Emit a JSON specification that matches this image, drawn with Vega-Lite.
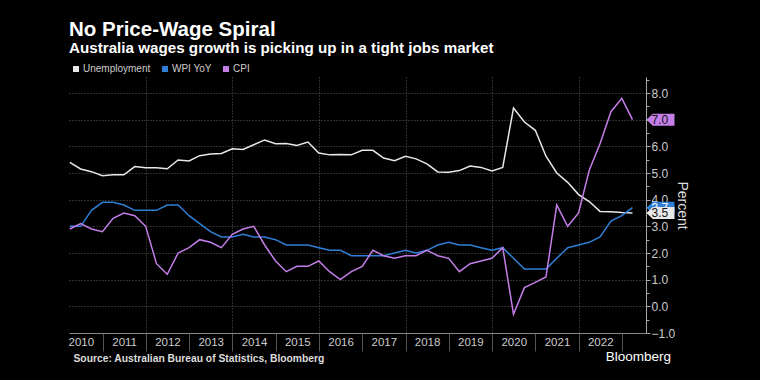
{
  "$schema": "https://vega.github.io/schema/vega-lite/v6.json",
  "width": 577,
  "height": 256,
  "autosize": {"type": "none"},
  "padding": {"left": 69, "top": 77, "right": 114, "bottom": 47},
  "background": "#000000",
  "title": {
    "text": "No Price-Wage Spiral",
    "subtitle": "Australia wages growth is picking up in a tight jobs market",
    "anchor": "start",
    "frame": "group",
    "offset": 8,
    "font": "Liberation Sans",
    "fontSize": 20.5,
    "fontWeight": "bold",
    "color": "#ffffff",
    "subtitleFont": "Liberation Sans",
    "subtitleFontSize": 15.2,
    "subtitleFontWeight": "bold",
    "subtitleColor": "#ffffff",
    "subtitlePadding": 0
  },
  "datasets": {
    "main": [
      {"date": "2010-03-31", "Unemployment": 5.4, "WPI YoY": 3.0, "CPI": 2.9},
      {"date": "2010-06-30", "Unemployment": 5.15, "WPI YoY": 3.0, "CPI": 3.1},
      {"date": "2010-09-30", "Unemployment": 5.05, "WPI YoY": 3.6, "CPI": 2.9},
      {"date": "2010-12-31", "Unemployment": 4.9, "WPI YoY": 3.9, "CPI": 2.8},
      {"date": "2011-03-31", "Unemployment": 4.93, "WPI YoY": 3.9, "CPI": 3.3},
      {"date": "2011-06-30", "Unemployment": 4.93, "WPI YoY": 3.8, "CPI": 3.5},
      {"date": "2011-09-30", "Unemployment": 5.24, "WPI YoY": 3.6, "CPI": 3.4},
      {"date": "2011-12-31", "Unemployment": 5.2, "WPI YoY": 3.6, "CPI": 3.0},
      {"date": "2012-03-31", "Unemployment": 5.2, "WPI YoY": 3.6, "CPI": 1.6},
      {"date": "2012-06-30", "Unemployment": 5.16, "WPI YoY": 3.8, "CPI": 1.2},
      {"date": "2012-09-30", "Unemployment": 5.49, "WPI YoY": 3.8, "CPI": 2.0},
      {"date": "2012-12-31", "Unemployment": 5.45, "WPI YoY": 3.4, "CPI": 2.2},
      {"date": "2013-03-31", "Unemployment": 5.65, "WPI YoY": 3.1, "CPI": 2.5},
      {"date": "2013-06-30", "Unemployment": 5.71, "WPI YoY": 2.8, "CPI": 2.4},
      {"date": "2013-09-30", "Unemployment": 5.73, "WPI YoY": 2.6, "CPI": 2.2},
      {"date": "2013-12-31", "Unemployment": 5.91, "WPI YoY": 2.6, "CPI": 2.7},
      {"date": "2014-03-31", "Unemployment": 5.88, "WPI YoY": 2.7, "CPI": 2.9},
      {"date": "2014-06-30", "Unemployment": 6.06, "WPI YoY": 2.6, "CPI": 3.0},
      {"date": "2014-09-30", "Unemployment": 6.24, "WPI YoY": 2.6, "CPI": 2.3},
      {"date": "2014-12-31", "Unemployment": 6.1, "WPI YoY": 2.5, "CPI": 1.7},
      {"date": "2015-03-31", "Unemployment": 6.11, "WPI YoY": 2.3, "CPI": 1.3},
      {"date": "2015-06-30", "Unemployment": 6.03, "WPI YoY": 2.3, "CPI": 1.5},
      {"date": "2015-09-30", "Unemployment": 6.16, "WPI YoY": 2.3, "CPI": 1.5},
      {"date": "2015-12-31", "Unemployment": 5.75, "WPI YoY": 2.2, "CPI": 1.7},
      {"date": "2016-03-31", "Unemployment": 5.68, "WPI YoY": 2.1, "CPI": 1.3},
      {"date": "2016-06-30", "Unemployment": 5.69, "WPI YoY": 2.1, "CPI": 1.0},
      {"date": "2016-09-30", "Unemployment": 5.68, "WPI YoY": 1.9, "CPI": 1.3},
      {"date": "2016-12-31", "Unemployment": 5.85, "WPI YoY": 1.9, "CPI": 1.5},
      {"date": "2017-03-31", "Unemployment": 5.85, "WPI YoY": 1.9, "CPI": 2.1},
      {"date": "2017-06-30", "Unemployment": 5.56, "WPI YoY": 1.9, "CPI": 1.9},
      {"date": "2017-09-30", "Unemployment": 5.46, "WPI YoY": 2.0, "CPI": 1.8},
      {"date": "2017-12-31", "Unemployment": 5.63, "WPI YoY": 2.1, "CPI": 1.9},
      {"date": "2018-03-31", "Unemployment": 5.53, "WPI YoY": 2.0, "CPI": 1.9},
      {"date": "2018-06-30", "Unemployment": 5.34, "WPI YoY": 2.1, "CPI": 2.1},
      {"date": "2018-09-30", "Unemployment": 5.04, "WPI YoY": 2.3, "CPI": 1.9},
      {"date": "2018-12-31", "Unemployment": 5.03, "WPI YoY": 2.4, "CPI": 1.8},
      {"date": "2019-03-31", "Unemployment": 5.09, "WPI YoY": 2.3, "CPI": 1.3},
      {"date": "2019-06-30", "Unemployment": 5.26, "WPI YoY": 2.3, "CPI": 1.6},
      {"date": "2019-09-30", "Unemployment": 5.21, "WPI YoY": 2.2, "CPI": 1.7},
      {"date": "2019-12-31", "Unemployment": 5.08, "WPI YoY": 2.1, "CPI": 1.8},
      {"date": "2020-03-31", "Unemployment": 5.21, "WPI YoY": 2.2, "CPI": 2.2},
      {"date": "2020-06-30", "Unemployment": 7.44, "WPI YoY": 1.8, "CPI": -0.3},
      {"date": "2020-09-30", "Unemployment": 6.91, "WPI YoY": 1.4, "CPI": 0.7},
      {"date": "2020-12-31", "Unemployment": 6.6, "WPI YoY": 1.4, "CPI": 0.9},
      {"date": "2021-03-31", "Unemployment": 5.63, "WPI YoY": 1.4, "CPI": 1.1},
      {"date": "2021-06-30", "Unemployment": 5.0, "WPI YoY": 1.8, "CPI": 3.8},
      {"date": "2021-09-30", "Unemployment": 4.65, "WPI YoY": 2.2, "CPI": 3.0},
      {"date": "2021-12-31", "Unemployment": 4.19, "WPI YoY": 2.3, "CPI": 3.5},
      {"date": "2022-03-31", "Unemployment": 3.93, "WPI YoY": 2.4, "CPI": 5.1},
      {"date": "2022-06-30", "Unemployment": 3.56, "WPI YoY": 2.6, "CPI": 6.1},
      {"date": "2022-09-30", "Unemployment": 3.55, "WPI YoY": 3.2, "CPI": 7.3},
      {"date": "2022-12-31", "Unemployment": 3.52, "WPI YoY": 3.4, "CPI": 7.8},
      {"date": "2023-03-31", "Unemployment": 3.5, "WPI YoY": 3.7, "CPI": 7.0}
    ]
  },
  "encoding": {
    "x": {
      "field": "date",
      "type": "temporal",
      "scale": {"domain": [{"year": 2010, "month": 3, "date": 24}, {"year": 2023, "month": 7, "date": 23}]},
      "axis": {
        "values": [
          {"year": 2010, "month": 7, "date": 2}, {"year": 2011, "month": 7, "date": 2},
          {"year": 2012, "month": 7, "date": 2}, {"year": 2013, "month": 7, "date": 2},
          {"year": 2014, "month": 7, "date": 2}, {"year": 2015, "month": 7, "date": 2},
          {"year": 2016, "month": 7, "date": 2}, {"year": 2017, "month": 7, "date": 2},
          {"year": 2018, "month": 7, "date": 2}, {"year": 2019, "month": 7, "date": 2},
          {"year": 2020, "month": 7, "date": 2}, {"year": 2021, "month": 7, "date": 2},
          {"year": 2022, "month": 7, "date": 2}, {"year": 2023, "month": 7, "date": 2}
        ],
        "format": "%Y",
        "labelExpr": "year(datum.value) >= 2023 ? '' : datum.label",
        "tickOffset": -21.6,
        "labelOffset": 21.6,
        "tickSize": 18,
        "tickColor": {"condition": {"test": "year(datum.value) == 2010", "value": "transparent"}, "value": "#555555"},
        "grid": true,
        "gridColor": "#5a5a5a",
        "gridDash": [1, 2],
        "gridOpacity": {"condition": {"test": "year(datum.value) % 2 == 0 && year(datum.value) > 2010", "value": 1}, "value": 0},
        "domainColor": "#888888",
        "labelColor": "#cccccc",
        "labelFont": "Liberation Sans",
        "labelFontSize": 11.5,
        "labelPadding": -15,
        "labelBaseline": "top",
        "labelFlush": false,
        "labelOverlap": false,
        "title": "Source: Australian Bureau of Statistics, Bloomberg",
        "titleAnchor": "start",
        "titleAlign": "left",
        "titleX": 4,
        "titleY": 28,
        "titleBaseline": "alphabetic",
        "titleFont": "Liberation Sans",
        "titleFontSize": 10.3,
        "titleFontWeight": "bold",
        "titleColor": "#dddddd"
      }
    },
    "y": {
      "field": "value",
      "type": "quantitative",
      "scale": {"domain": [-1, 8.6], "nice": false, "zero": false},
      "axis": {
        "orient": "right",
        "values": [-1, -0.5, 0, 0.5, 1, 1.5, 2, 2.5, 3, 3.5, 4, 4.5, 5, 5.5, 6, 6.5, 7, 7.5, 8, 8.5],
        "labelExpr": "datum.value % 1 == 0 ? format(datum.value, '.1f') : ''",
        "tickSize": {"condition": {"test": "datum.value % 1 == 0", "value": 4}, "value": 3},
        "tickColor": "#aaaaaa",
        "grid": true,
        "gridColor": "#5a5a5a",
        "gridDash": [1, 2],
        "gridOpacity": {"condition": {"test": "datum.value % 1 == 0 && datum.value > -1", "value": 1}, "value": 0},
        "domainColor": "#aaaaaa",
        "labelColor": "#cccccc",
        "labelFont": "Liberation Sans",
        "labelFontSize": 12,
        "labelPadding": 1,
        "labelFlush": false,
        "labelOverlap": false,
        "title": "Percent",
        "titleColor": "#dddddd",
        "titleFont": "Liberation Sans",
        "titleFontSize": 14,
        "titleFontWeight": "normal",
        "titlePadding": 0
      }
    }
  },
  "layer": [
    {
      "data": {"name": "main"},
      "transform": [
        {"fold": ["Unemployment", "WPI YoY", "CPI"], "as": ["series", "value"]},
        {"filter": "year(datum.date) == 2023 && datum.series == 'WPI YoY' || year(datum.date) == 2023 && datum.series == 'CPI'"}
      ],
      "mark": {"type": "point", "shape": "M -1 0 L -0.55 -0.43 L 1 -0.43 L 1 0.43 L -0.55 0.43 Z", "filled": true, "opacity": 1, "size": 784, "xOffset": 28},
      "encoding": {
        "color": {
          "field": "series",
          "type": "nominal",
          "scale": {"domain": ["Unemployment", "WPI YoY", "CPI"], "range": ["#e8e8e8", "#2f7fd6", "#c47ee8"]},
          "legend": {
            "orient": "none",
            "legendX": 2,
            "legendY": -13,
            "direction": "horizontal",
            "title": null,
            "symbolType": "square",
            "symbolSize": 36,
            "symbolStrokeWidth": 0,
            "labelFont": "Liberation Sans",
            "labelFontSize": 10,
            "labelColor": "#cccccc",
            "columnPadding": 9,
            "labelOffset": 2
          }
        }
      }
    },
    {
      "data": {"name": "main"},
      "transform": [
        {"fold": ["Unemployment", "WPI YoY", "CPI"], "as": ["series", "value"]},
        {"filter": "year(datum.date) == 2023 && datum.series == 'WPI YoY' || year(datum.date) == 2023 && datum.series == 'CPI'"}
      ],
      "mark": {"type": "text", "align": "left", "baseline": "middle", "xOffset": 19, "font": "Liberation Sans", "fontSize": 12},
      "encoding": {
        "text": {"field": "value", "type": "quantitative", "format": ".1f"},
        "color": {"condition": {"test": "datum.series == 'WPI YoY'", "value": "#ffffff"}, "value": "#111111"}
      }
    },
    {
      "data": {"name": "main"},
      "transform": [
        {"fold": ["Unemployment", "WPI YoY", "CPI"], "as": ["series", "value"]},
        {"filter": "year(datum.date) == 2023 && datum.series == 'Unemployment'"}
      ],
      "mark": {"type": "point", "shape": "M -1 0 L -0.55 -0.43 L 1 -0.43 L 1 0.43 L -0.55 0.43 Z", "filled": true, "opacity": 1, "size": 784, "xOffset": 28},
      "encoding": {
        "color": {"field": "series", "type": "nominal"}
      }
    },
    {
      "data": {"name": "main"},
      "transform": [
        {"fold": ["Unemployment", "WPI YoY", "CPI"], "as": ["series", "value"]},
        {"filter": "year(datum.date) == 2023 && datum.series == 'Unemployment'"}
      ],
      "mark": {"type": "text", "align": "left", "baseline": "middle", "xOffset": 19, "font": "Liberation Sans", "fontSize": 12, "color": "#111111"},
      "encoding": {
        "text": {"field": "value", "type": "quantitative", "format": ".1f"}
      }
    },
    {
      "data": {"name": "main"},
      "transform": [
        {"fold": ["Unemployment", "WPI YoY", "CPI"], "as": ["series", "value"]}
      ],
      "mark": {"type": "line", "strokeWidth": 1.5},
      "encoding": {
        "color": {"field": "series", "type": "nominal"}
      }
    },
    {
      "data": {"name": "main"},
      "transform": [
        {"fold": ["Unemployment", "WPI YoY", "CPI"], "as": ["series", "value"]},
        {"filter": "year(datum.date) == 2023 && datum.series == 'CPI'"}
      ],
      "mark": {"type": "text", "align": "right", "baseline": "middle", "font": "Liberation Sans", "fontSize": 13.5, "fill": "#ffffff"},
      "encoding": {
        "x": {"datum": {"year": 2024, "month": 2, "date": 20}, "type": "temporal"},
        "y": {"datum": -1.9, "type": "quantitative"},
        "text": {"value": "Bloomberg"}
      }
    }
  ],
  "config": {
    "view": {"stroke": null},
    "font": "Liberation Sans"
  }
}
